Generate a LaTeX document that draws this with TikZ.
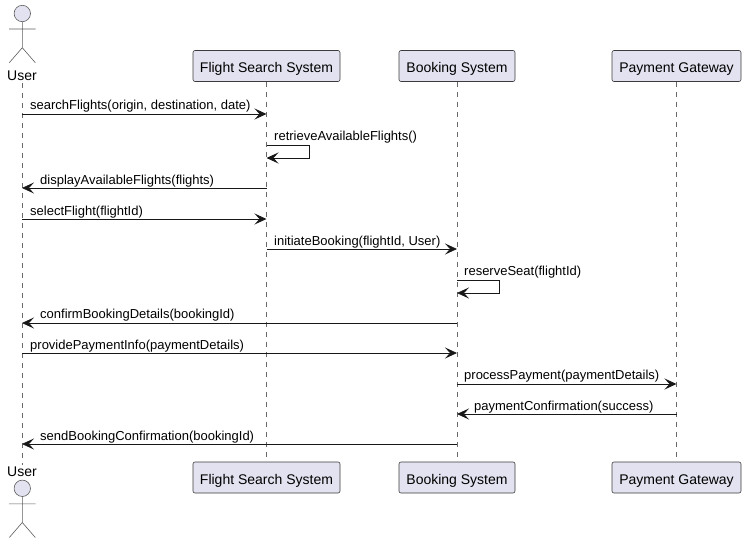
\documentclass[tikz,border=0pt]{standalone}
\usepackage{fontspec}
\setmainfont{Liberation Sans}
\usetikzlibrary{arrows.meta}
\definecolor{partfill}{HTML}{E2E2F0}
\definecolor{partline}{HTML}{181818}
\begin{document}
\begin{tikzpicture}[x=1pt, y=-1pt,
  part/.style={draw=partline!85, line width=0.6pt, fill=partfill, rectangle, rounded corners=2pt,
               minimum height=31pt, inner xsep=0pt, text height=15pt, text depth=1pt,
               font=\fontsize{14}{16}\selectfont},
  actorname/.style={font=\fontsize{14}{16}\selectfont, inner sep=0pt, minimum height=14pt},
  lifeline/.style={draw=partline!65, line width=0.6pt, dash pattern=on 5pt off 5pt},
  msg/.style={draw=partline, line width=0.8pt, -{Stealth[length=12pt, width=11pt, inset=5pt]}},
  msglbl/.style={font=\fontsize{13}{15}\selectfont, anchor=base west, inner sep=0pt},
  actorfig/.pic={
    \draw[draw=partline!70, line width=0.6pt, fill=partfill] (0,-8.2) circle (8.2pt);
    \draw[draw=partline!70, line width=0.6pt] (0,0) -- (0,26) (-13.3,7.3) -- (13.3,7.3)
      (-13,41) -- (0,26) -- (13,41);
  },
]
\useasboundingbox (0,0) rectangle (745,543);
% actors and participants
\pic at (22.3,21.7) {actorfig};
\node[actorname] (usrt) at (22,76) {User};
\pic at (22.3,496.5) {actorfig};
\node[actorname] (usrb) at (22,472) {User};
\node[part, minimum width=147pt] (fsst) at (266.5,66) {Flight Search System};
\node[part, minimum width=116pt] (bkst) at (457,66) {Booking System};
\node[part, minimum width=129pt] (payt) at (676.5,66) {Payment Gateway};
\node[part, minimum width=147pt] (fssb) at (266.5,477.5) {Flight Search System};
\node[part, minimum width=116pt] (bksb) at (457,477.5) {Booking System};
\node[part, minimum width=129pt] (payb) at (676.5,477.5) {Payment Gateway};
% lifelines
\draw[lifeline] (usrt.south) -- (usrb.north);
\draw[lifeline] (fsst.south) -- (fssb.north);
\draw[lifeline] (bkst.south) -- (bksb.north);
\draw[lifeline] (payt.south) -- (payb.north);
% message rows
\coordinate (r1) at (0,114);
\coordinate (r2) at (0,145);
\coordinate (r2b) at (0,158);
\coordinate (r3) at (0,188);
\coordinate (r4) at (0,219);
\coordinate (r5) at (0,249);
\coordinate (r6) at (0,280);
\coordinate (r6b) at (0,293);
\coordinate (r7) at (0,323);
\coordinate (r8) at (0,353);
\coordinate (r9) at (0,384);
\coordinate (r10) at (0,414);
\coordinate (r11) at (0,444);
\coordinate (loopf) at (309.5,0);
\coordinate (loopb) at (499.5,0);
% messages
\node[msglbl] (l1) at (30,110) {searchFlights(origin, destination, date)};
\draw[msg] (usrt |- r1) -- (fsst |- r1);
\node[msglbl] (l2) at (274,140) {retrieveAvailableFlights()};
\draw[msg] (fsst |- r2) -| (loopf |- r2b) -- (fsst |- r2b);
\node[msglbl] (l3) at (40,184) {displayAvailableFlights(flights)};
\draw[msg] (fsst |- r3) -- (usrt |- r3);
\node[msglbl] (l4) at (30,215) {selectFlight(flightId)};
\draw[msg] (usrt |- r4) -- (fsst |- r4);
\node[msglbl] (l5) at (274,245) {initiateBooking(flightId, User)};
\draw[msg] (fsst |- r5) -- (bkst |- r5);
\node[msglbl] (l6) at (464,275) {reserveSeat(flightId)};
\draw[msg] (bkst |- r6) -| (loopb |- r6b) -- (bkst |- r6b);
\node[msglbl] (l7) at (40,318) {confirmBookingDetails(bookingId)};
\draw[msg] (bkst |- r7) -- (usrt |- r7);
\node[msglbl] (l8) at (30,349) {providePaymentInfo(paymentDetails)};
\draw[msg] (usrt |- r8) -- (bkst |- r8);
\node[msglbl] (l9) at (464,379) {processPayment(paymentDetails)};
\draw[msg] (bkst |- r9) -- (payt |- r9);
\node[msglbl] (l10) at (474,410) {paymentConfirmation(success)};
\draw[msg] (payt |- r10) -- (bkst |- r10);
\node[msglbl] (l11) at (40,440) {sendBookingConfirmation(bookingId)};
\draw[msg] (bkst |- r11) -- (usrt |- r11);
\end{tikzpicture}
\end{document}
